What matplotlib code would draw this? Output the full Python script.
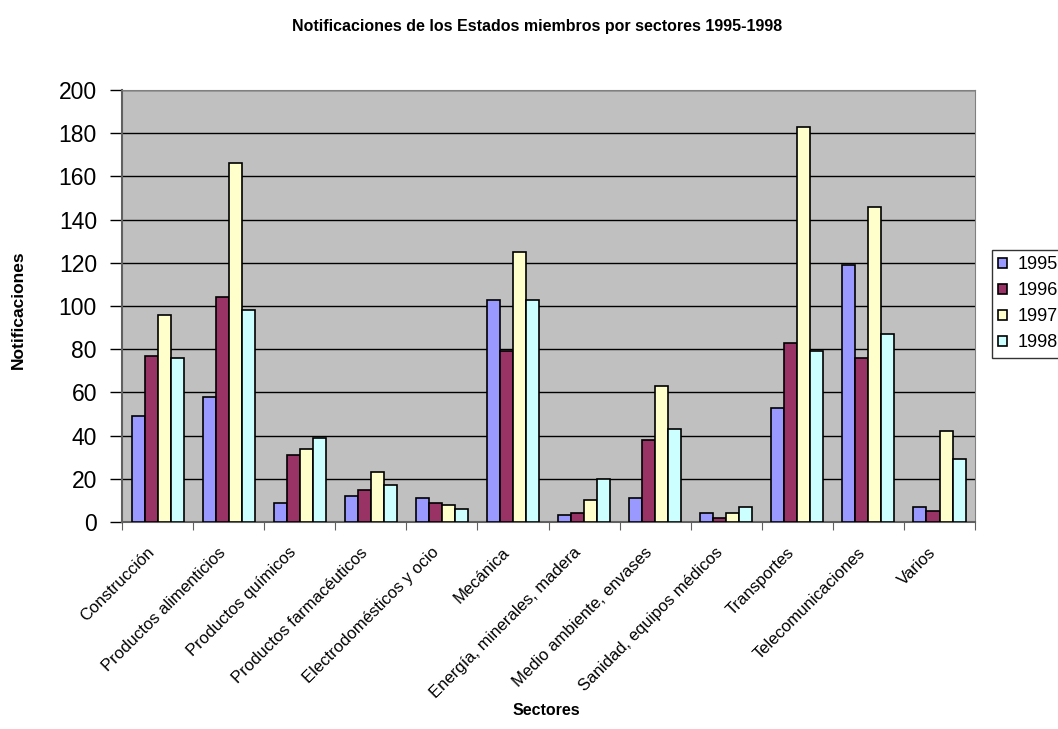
import numpy as np
import matplotlib.pyplot as plt
import matplotlib.transforms as mtransforms

# ============
#  DATA
# ============

sectores = [
    "Construcción",
    "Productos alimenticios",
    "Productos químicos",
    "Productos farmacéuticos",
    "Electrodomésticos y ocio",
    "Mecánica",
    "Energía, minerales, madera",
    "Medio ambiente, envases",
    "Sanidad, equipos médicos",
    "Transportes",
    "Telecomunicaciones",
    "Varios",
]

years = ["1995", "1996", "1997", "1998"]

v1995 = [49, 58, 9, 12, 11, 103, 3, 11, 4, 53, 119, 7]
v1996 = [77, 104, 31, 15, 9, 79, 4, 38, 2, 83, 76, 5]
v1997 = [96, 166, 34, 23, 8, 125, 10, 63, 4, 183, 146, 42]
v1998 = [76, 98, 39, 17, 6, 103, 20, 43, 7, 79, 87, 29]

colors = ["#9999FF", "#993366", "#FFFFCC", "#CCFFFF"]

yticks = list(range(0, 201, 20))


# ============
#  PLOT
# ============

def main():
    plt.rcParams["font.family"] = ["Liberation Sans", "DejaVu Sans"]

    fig = plt.figure(figsize=(10.58, 7.29), dpi=100)
    ax = fig.add_axes([0.1153, 0.2840, 0.8063, 0.5925])
    ax.set_facecolor("#C0C0C0")

    series = [v1995, v1996, v1997, v1998]
    x = np.arange(len(sectores))
    bw = 0.183
    offsets = (np.arange(4) - 1.5) * bw

    handles = []
    for vals, off, col, yr in zip(series, offsets, colors, years):
        h = ax.bar(x + off, vals, width=bw, color=col, edgecolor="black",
                   linewidth=1.2, label=yr, zorder=3)
        handles.append(h)

    ax.set_xlim(-0.5, len(sectores) - 0.5)
    ax.set_ylim(0, 200)
    ax.set_yticks(yticks)
    ax.tick_params(axis="y", labelsize=16.5, direction="out", length=9,
                   width=1, color="black", pad=9)
    ax.yaxis.grid(True, color="black", linewidth=1, zorder=0)
    ax.set_axisbelow(True)

    # category tick marks at the boundaries, labels centred
    ax.set_xticks(np.arange(len(sectores) + 1) - 0.5)
    ax.set_xticklabels([])
    ax.set_xticks(x, minor=True)
    ax.set_xticklabels(sectores, minor=True, rotation=45, ha="right",
                       rotation_mode="anchor", fontsize=12)
    ax.tick_params(axis="x", which="major", direction="out", length=6,
                   color="#606060")
    ax.tick_params(axis="x", which="minor", length=0, pad=10)

    # nudge the slanted labels down-left a little, like the original
    shift = mtransforms.ScaledTranslation(-0.11, -0.09, fig.dpi_scale_trans)
    for lbl in ax.get_xticklabels(minor=True):
        lbl.set_transform(lbl.get_transform() + shift)

    for s in ["top", "right"]:
        ax.spines[s].set_color("#808080")
    for s in ["left", "bottom"]:
        ax.spines[s].set_color("#606060")
        ax.spines[s].set_linewidth(1.5)

    fig.text(0.508, 0.963, "Notificaciones de los Estados miembros por sectores 1995-1998",
             ha="center", va="center", fontsize=11.5, fontweight="bold")
    fig.text(0.017, 0.575, "Notificaciones", rotation=90, ha="center",
             va="center", fontsize=12.5, fontweight="bold")
    fig.text(0.516, 0.026, "Sectores", ha="center", va="center",
             fontsize=11.5, fontweight="bold")

    leg = fig.legend(handles=handles, labels=years, loc="upper left",
                     bbox_to_anchor=(0.9376, 0.657), fontsize=13,
                     frameon=True, fancybox=False, edgecolor="black",
                     handlelength=0.5, handleheight=0.5, handletextpad=0.55,
                     borderpad=0.35, labelspacing=0.5, borderaxespad=0)
    leg.get_frame().set_linewidth(1)

    fig.savefig("out.png", dpi=100)


if __name__ == "__main__":
    main()
